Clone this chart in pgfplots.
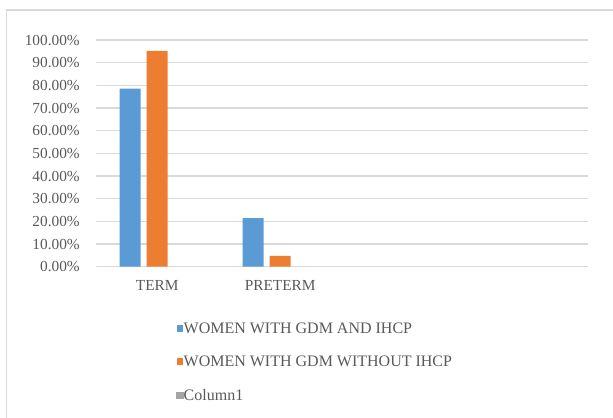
\documentclass[border=0pt]{standalone}
\usepackage{pgfplots}
\pgfplotsset{compat=1.18}
\usepackage{fontspec}
\setmainfont{Liberation Serif}

\definecolor{serA}{HTML}{5B9BD5}
\definecolor{serB}{HTML}{ED7D31}
\definecolor{serC}{HTML}{A5A5A5}
\definecolor{gridgray}{HTML}{D9D9D9}
\definecolor{framegray}{HTML}{D9D9D9}
\definecolor{labelgray}{HTML}{595959}

\newcommand{\tickfont}{\fontsize{11.5pt}{13pt}\selectfont}
\newcommand{\legendfont}{\fontsize{12pt}{14pt}\selectfont}

% small square swatch for a legend entry, centred on the text
\pgfplotsset{
    swatch/.style={
        legend image code/.code={\fill[#1] (0pt,-1.8pt) rectangle (5pt,3.2pt);}
    },
}

\begin{document}
\begin{tikzpicture}
% page area (1px = 0.75pt)
\useasboundingbox (0pt,0pt) rectangle (459.75pt,312.75pt);
% chart area frame, running past the right and bottom edges
\draw[framegray, line width=0.8pt] (4.875pt,-20pt) -- (4.875pt,305.25pt) -- (480pt,305.25pt);

\begin{axis}[
    at={(71.78pt,112.73pt)}, anchor=south west,
    scale only axis,
    width=369pt, height=170pt,
    ybar, bar width=15.75pt,
    xmin=-0.5, xmax=3.5,
    ymin=0, ymax=100,
    xtick={0,1}, xticklabels={TERM,PRETERM},
    ytick={0,10,...,100},
    yticklabel={\pgfmathprintnumber[fixed,fixed zerofill,precision=2]{\tick}\%},
    /pgf/number format/assume math mode=true,
    ymajorgrids,
    grid style={gridgray, line width=0.8pt},
    axis line style={draw=none},
    major tick length=0pt,
    tick label style={font=\tickfont, text=labelgray, inner sep=0pt},
    xticklabel style={anchor=north, yshift=-10pt},
    yticklabel style={anchor=east, xshift=-11.8pt},
    legend cell align=left,
    legend style={
        draw=none, fill=none, inner sep=0pt, outer sep=0pt,
        at={(axis description cs:0.1642,-0.2453)}, anchor=north west,
        font=\legendfont, text=labelgray,
        nodes={inner sep=0pt, text height=8.25pt, text depth=2.25pt},
        row sep=14.55pt,
        /tikz/every even column/.append style={column sep=2.1pt},
    },
]
\addplot[fill=serA, draw=none, bar shift=-20.25pt, swatch=serA] coordinates {(0,78.57) (1,21.43)};
\addlegendentry{WOMEN WITH GDM AND IHCP}
\addplot[fill=serB, draw=none, bar shift=0pt, swatch=serB] coordinates {(0,95.24) (1,4.76)};
\addlegendentry{WOMEN WITH GDM WITHOUT IHCP}
\addlegendimage{swatch=serC}
\addlegendentry{Column1}
\end{axis}
\end{tikzpicture}
\end{document}
